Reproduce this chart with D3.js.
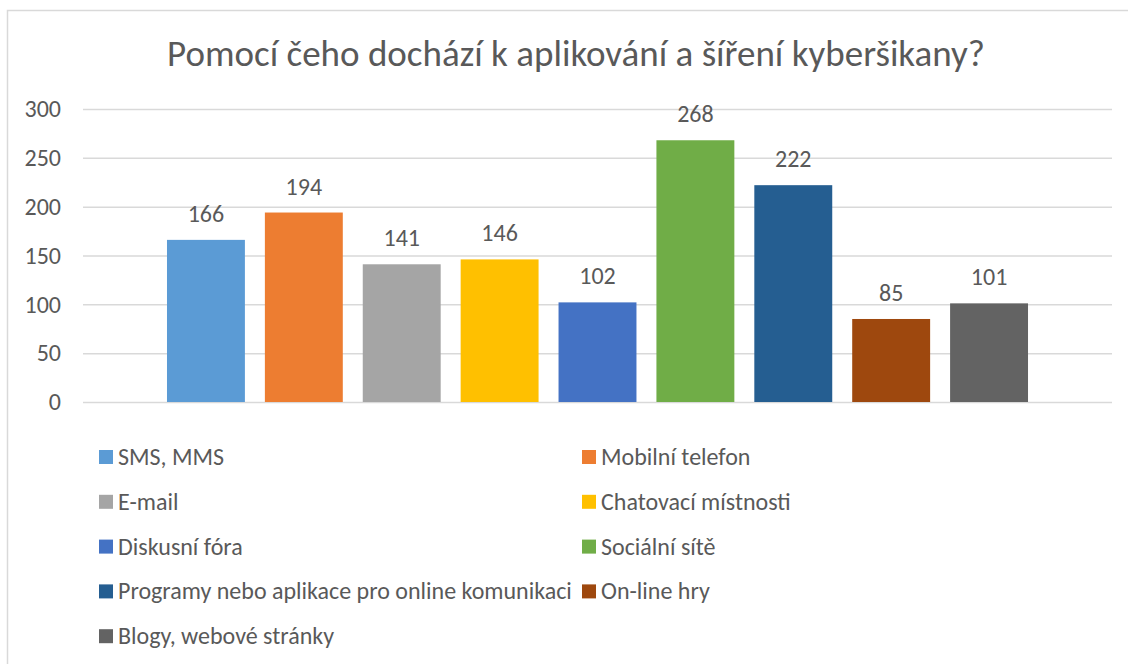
<!DOCTYPE html>
<html>
<head>
<meta charset="utf-8">
<script src="https://cdn.jsdelivr.net/npm/d3@7"></script>
<style>
  body { margin: 0; background: #fff; }
  text { font-family: Carlito, Calibri, "Open Sans", sans-serif; fill: #595959; }
</style>
</head>
<body>
<svg id="chart" width="1128" height="664"></svg>
<script>
var title = "Pomocí čeho dochází k aplikování a šíření kyberšikany?";
var categories = ["SMS, MMS", "Mobilní telefon", "E-mail", "Chatovací místnosti", "Diskusní fóra",
    "Sociální sítě", "Programy nebo aplikace pro online komunikaci", "On-line hry", "Blogy, webové stránky"];
var values = [166, 194, 141, 146, 102, 268, 222, 85, 101];
var yTicks = [0, 50, 100, 150, 200, 250, 300];
var colors = ["#5B9BD5", "#ED7D31", "#A5A5A5", "#FFC000", "#4472C4", "#70AD47", "#255E91", "#9E480E", "#636363"];

var svg = d3.select("#chart");

// chart frame (cut at right / bottom like the screenshot)
svg.append("rect")
    .attr("x", 7.5).attr("y", 10.5)
    .attr("width", 1140).attr("height", 680)
    .attr("fill", "#fff")
    .attr("stroke", "#d9d9d9")
    .attr("stroke-width", 1.5);

svg.append("text")
    .attr("x", 576)
    .attr("y", 66)
    .attr("text-anchor", "middle")
    .style("font-size", "37px")
    .text(title);

var plotLeft = 83, plotRight = 1112;

var x = d3.scaleBand()
    .domain(categories)
    .range([157, 1038])
    .paddingInner(0.204)
    .paddingOuter(0.102);

var y = d3.scaleLinear()
    .domain([0, 300])
    .range([402, 109]);

var yAxis = svg.append("g")
    .attr("transform", "translate(" + plotLeft + ",0)")
    .call(d3.axisLeft(y)
        .tickValues(yTicks)
        .tickSize(-(plotRight - plotLeft))
        .tickPadding(22));

yAxis.select(".domain").remove();
yAxis.selectAll("line")
    .attr("stroke", "#d9d9d9")
    .attr("stroke-width", 1.5);
yAxis.selectAll("text")
    .style("font-size", "24px")
    .attr("fill", "#595959");

svg.selectAll(".bar")
    .data(values)
    .enter().append("rect")
    .attr("class", "bar")
    .attr("x", function (d, i) { return x(categories[i]); })
    .attr("y", function (d) { return y(d); })
    .attr("width", x.bandwidth())
    .attr("height", function (d) { return y(0) - y(d); })
    .attr("fill", function (d, i) { return colors[i]; });

svg.selectAll(".label")
    .data(values)
    .enter().append("text")
    .attr("class", "label")
    .attr("x", function (d, i) { return x(categories[i]) + x.bandwidth() / 2; })
    .attr("y", function (d) { return y(d) - 18; })
    .attr("text-anchor", "middle")
    .style("font-size", "24px")
    .text(function (d) { return d; });

// legend, two columns
var legend = svg.selectAll(".legend")
    .data(categories)
    .enter().append("g")
    .attr("class", "legend")
    .attr("transform", function (d, i) {
        var col = i % 2, row = Math.floor(i / 2);
        return "translate(" + (col === 0 ? 99 : 582) + "," + (457 + row * 44.8) + ")";
    });

legend.append("rect")
    .attr("x", 0).attr("y", -7)
    .attr("width", 14).attr("height", 14)
    .attr("fill", function (d, i) { return colors[i]; });

legend.append("text")
    .attr("x", 19)
    .attr("y", 8)
    .style("font-size", "24px")
    .text(function (d) { return d; });
</script>
</body>
</html>
